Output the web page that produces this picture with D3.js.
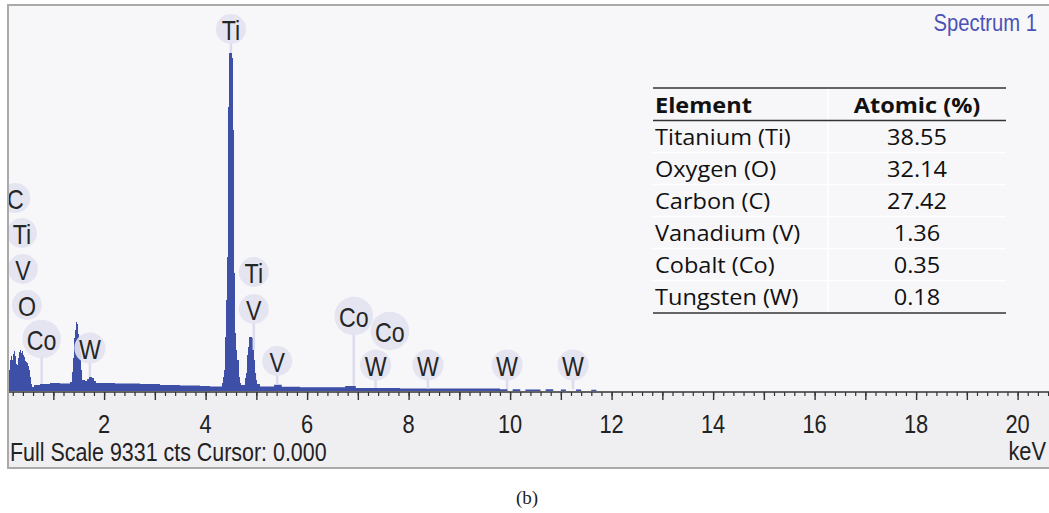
<!DOCTYPE html>
<html>
<head>
<meta charset="utf-8">
<script src="https://cdn.jsdelivr.net/npm/d3@7"></script>
<style>
  html, body { margin: 0; padding: 0; background: #ffffff; }
  svg { display: block; }
</style>
</head>
<body>
<svg id="chart" width="1049" height="513"></svg>
<script>
// EDS spectrum: channel start energy (keV) and counts per channel
const specKeV = [0.126,0.146,0.166,0.185,0.205,0.225,0.244,0.264,0.284,0.303,0.323,0.343,0.363,0.382,0.402,0.422,0.441,0.461,0.481,0.500,0.520,0.540,0.560,0.579,0.619,0.737,0.934,1.131,1.328,1.367,1.387,1.407,1.427,1.447,1.466,1.486,1.505,1.525,1.545,1.565,1.624,1.665,1.702,1.762,1.801,1.840,2.215,2.707,3.101,3.496,3.890,4.087,4.323,4.343,4.363,4.382,4.402,4.422,4.441,4.461,4.520,4.540,4.560,4.579,4.599,4.619,4.658,4.678,4.698,4.777,4.796,4.816,4.836,4.855,4.915,4.934,4.954,4.974,4.994,5.013,5.072,5.35,5.50,5.86,6.75,6.96,7.83,9.80,9.95,10.05,10.20,10.30,10.60,10.70,10.85,11.00,11.10,11.30,11.40,11.60,11.70,20.70];
const specCts = [512,755,853,755,901,974,853,658,633,804,950,999,926,974,877,828,731,706,682,609,512,341,171,97,146,171,195,183,219,463,804,1291,1486,1681,1632,1389,1145,950,512,268,244,292,341,317,244,195,183,171,146,134,122,110,195,341,512,1315,2217,3264,6918,8234,8112,6358,2874,1413,999,755,341,195,146,317,438,877,1072,1315,1291,999,755,438,268,171,110,150,105,90,122,73,61,40,0,45,0,35,0,40,0,35,0,35,0,30,0,0];
const fullScale = 9331;

// Peak identification markers
const markEls = ["C","Ti","V","O","Co","W","Ti","Ti","V","V","Co","Co","W","W","W","W"];
const markKeV = [0.25,0.38,0.40,0.48,0.77,1.72,4.50,4.95,4.95,5.41,6.92,7.63,7.35,8.38,9.94,11.24];
// layout: marker text centre (px) and whether the marker carries a pin
const markY = [199,234,270,306,340,349,30,273,310,362,317,332,366,366,366,366];
const markPin = [false,false,false,false,true,true,true,false,true,true,true,false,true,true,true,true];

// Quantification table
const tableElements = ["Titanium (Ti)","Oxygen (O)","Carbon (C)","Vanadium (V)","Cobalt (Co)","Tungsten (W)"];
const tableAtomic = ["38.55","32.14","27.42","1.36","0.35","0.18"];
const tableHeader = ["Element","Atomic (%)"];

const xTickLabels = [2,4,6,8,10,12,14,16,18,20];

const svg = d3.select("#chart");
const sans = "'Liberation Sans', Arial, Helvetica, sans-serif";
const fill = "#3d4fa6";

const frame = {left: 8, top: 5, right: 1052, axisY: 392, bottom: 468};

// panel backgrounds
svg.append("rect").attr("x", frame.left).attr("y", frame.top)
  .attr("width", frame.right - frame.left).attr("height", frame.axisY - frame.top)
  .attr("fill", "#f7f7fa");
svg.append("rect").attr("x", frame.left).attr("y", frame.axisY)
  .attr("width", frame.right - frame.left).attr("height", frame.bottom - frame.axisY)
  .attr("fill", "#efeff2");
svg.append("rect").attr("x", frame.left).attr("y", frame.top)
  .attr("width", frame.right - frame.left).attr("height", frame.bottom - frame.top)
  .attr("fill", "none").attr("stroke", "#aaaaaa").attr("stroke-width", 2);

const x = d3.scaleLinear().domain([0, 20]).range([2.6, 1017.6]);
const y = d3.scaleLinear().domain([0, fullScale]).range([391, 8]);

svg.append("clipPath").attr("id", "plotClip")
  .append("rect").attr("x", frame.left + 1).attr("y", frame.top + 1)
  .attr("width", frame.right - frame.left).attr("height", frame.axisY - frame.top - 1);

const spec = specKeV.map((e, i) => ({e, c: specCts[i]}));

const plot = svg.append("g").attr("clip-path", "url(#plotClip)");

// pins under the markers
const bis = d3.bisector(d => d.e).right;
function countAt(e) {
  const i = Math.max(0, bis(spec, e) - 1);
  return spec[i].c;
}

const marks = markEls.map((el, i) => ({el, keV: markKeV[i], cy: markY[i], pin: markPin[i]}));

const markG = plot.append("g");
// measure text for bubble sizes
const tmp = svg.append("text").attr("font-family", sans).attr("font-size", 26);
marks.forEach(m => {
  tmp.text(m.el);
  m.w = tmp.node().getComputedTextLength() * 0.86;
  m.r = Math.max(15, m.w / 2 + 5);
});
tmp.remove();

markG.selectAll("line.pin").data(marks.filter(m => m.pin)).join("line")
  .attr("class", "pin")
  .attr("x1", m => x(m.keV)).attr("x2", m => x(m.keV))
  .attr("y1", m => m.cy + m.r - 2)
  .attr("y2", m => Math.min(y(countAt(m.keV)), 389))
  .attr("stroke", "#dcdcec").attr("stroke-width", 2.5);

// spectrum
plot.append("path")
  .datum(spec)
  .attr("d", d3.area().x(d => x(d.e)).y0(y(0)).y1(d => y(d.c)).curve(d3.curveStepAfter))
  .attr("fill", fill);

// marker bubbles and element symbols
const mg = markG.selectAll("g.mark").data(marks).join("g").attr("class", "mark")
  .attr("transform", m => `translate(${x(m.keV)},${m.cy})`);
mg.append("circle").attr("r", m => m.r).attr("cy", -1)
  .attr("fill", "#e2e2f0").attr("fill-opacity", 0.9);
mg.append("text")
  .attr("transform", "scale(0.86,1)")
  .attr("text-anchor", "middle").attr("dy", "0.36em")
  .attr("font-family", sans).attr("font-size", 27).attr("fill", "#262626")
  .text(m => m.el);
markG.raise();

// energy axis
const minorTicks = d3.range(1, 104).map(i => +(i * 0.2).toFixed(1)).filter(v => x(v) > frame.left + 1 && x(v) < 1049);
const majorTicks = d3.range(1, 21);
svg.append("g").attr("transform", `translate(0,${frame.axisY})`)
  .call(d3.axisBottom(x).tickValues(minorTicks).tickSize(4).tickFormat(""))
  .call(g => g.select(".domain").remove())
  .call(g => g.selectAll("line").attr("stroke", "#333").attr("stroke-width", 1.2));
svg.append("g").attr("transform", `translate(0,${frame.axisY})`)
  .call(d3.axisBottom(x).tickValues(majorTicks).tickSize(8).tickFormat(""))
  .call(g => g.select(".domain").remove())
  .call(g => g.selectAll("line").attr("stroke", "#333").attr("stroke-width", 1.4));
svg.append("line").attr("x1", frame.left + 1).attr("x2", 1049)
  .attr("y1", frame.axisY).attr("y2", frame.axisY)
  .attr("stroke", "#333").attr("stroke-width", 1.6);

svg.append("g").selectAll("text").data(xTickLabels).join("text")
  .attr("transform", d => `translate(${x(d)},433) scale(0.84,1)`)
  .attr("text-anchor", "middle")
  .attr("font-family", sans).attr("font-size", 26).attr("fill", "#222")
  .text(d => d);

svg.append("text").attr("transform", "translate(1046,460) scale(0.84,1)")
  .attr("text-anchor", "end").attr("font-family", sans).attr("font-size", 26).attr("fill", "#222")
  .text("keV");

svg.append("text").attr("transform", "translate(10,461) scale(0.857,1)")
  .attr("font-family", sans).attr("font-size", 25).attr("fill", "#222")
  .text("Full Scale 9331 cts Cursor: 0.000");

svg.append("text").attr("transform", "translate(1037,31) scale(0.88,1)")
  .attr("text-anchor", "end").attr("font-family", sans).attr("font-size", 23).attr("fill", "#4c52b5")
  .text("Spectrum 1");

// composition table
const tbl = svg.append("g");
const tLeft = 653, tRight = 1006, colC = 917, rowH = 32, tTop = 88;
const tfont = "'Open Sans', Lato, sans-serif";
const tScale = "scale(1.07,1)";
for (let i = 1; i <= tableElements.length; i++) {
  tbl.append("line").attr("x1", tLeft).attr("x2", tRight)
    .attr("y1", tTop + 32.5 + i * rowH).attr("y2", tTop + 32.5 + i * rowH)
    .attr("stroke", "#ffffff").attr("stroke-width", 1.5);
}
tbl.append("line").attr("x1", 828).attr("x2", 828).attr("y1", tTop).attr("y2", tTop + 225)
  .attr("stroke", "#ffffff").attr("stroke-width", 1.5);
[[tTop, 1.6], [tTop + 32.5, 1.6], [tTop + 225, 1.6]].forEach(([yy, w]) => {
  tbl.append("line").attr("x1", tLeft).attr("x2", tRight).attr("y1", yy).attr("y2", yy)
    .attr("stroke", "#333").attr("stroke-width", w);
});
tbl.append("text").attr("transform", `translate(655,113) ${tScale}`)
  .attr("font-family", tfont).attr("font-weight", "bold").attr("font-size", 22).attr("fill", "#111")
  .text(tableHeader[0]);
tbl.append("text").attr("transform", `translate(${colC},113) ${tScale}`).attr("text-anchor", "middle")
  .attr("font-family", tfont).attr("font-weight", "bold").attr("font-size", 22).attr("fill", "#111")
  .text(tableHeader[1]);
tableElements.forEach((name, i) => {
  const by = 145 + i * rowH;
  tbl.append("text").attr("transform", `translate(655,${by}) ${tScale}`)
    .attr("font-family", tfont).attr("font-size", 22).attr("fill", "#111").text(name);
  tbl.append("text").attr("transform", `translate(${colC},${by}) ${tScale}`).attr("text-anchor", "middle")
    .attr("font-family", tfont).attr("font-size", 22).attr("fill", "#111").text(tableAtomic[i]);
});

// panel caption
svg.append("text").attr("x", 527).attr("y", 504).attr("text-anchor", "middle")
  .attr("font-family", "'Liberation Serif', 'Times New Roman', serif").attr("font-size", 19).attr("fill", "#222")
  .text("(b)");
</script>
</body>
</html>
